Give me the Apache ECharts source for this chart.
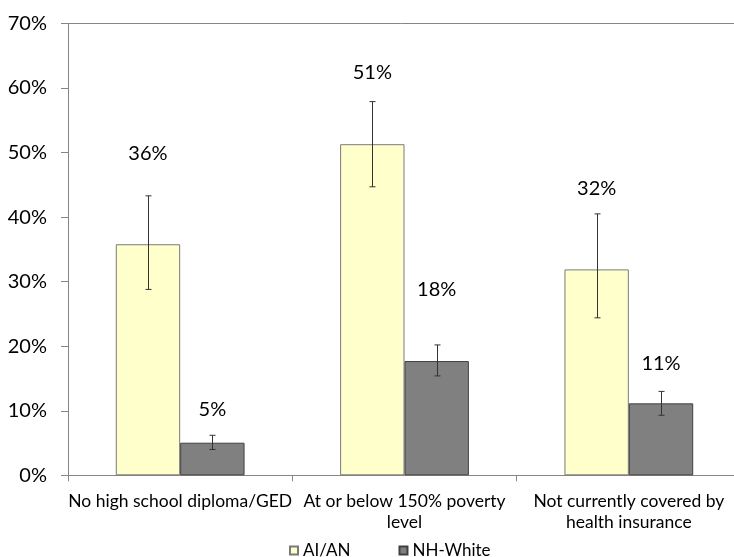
<!DOCTYPE html>
<html>
<head>
<meta charset="utf-8">
<script src="https://cdn.jsdelivr.net/npm/echarts@6/dist/echarts.min.js"></script>
<style>
html,body{margin:0;padding:0;background:#fff;}
#c{width:734px;height:557px;}
</style>
</head>
<body>
<div id="c"></div>
<script>
// ---- data ----
const categories = ['No high school diploma/GED', 'At or below 150% poverty\nlevel', 'Not currently covered by\nhealth insurance'];
const seriesNames = ['AI/AN', 'NH-White'];
const aian = [35.8, 51.3, 31.9];
const aianLow = [28.8, 44.7, 24.4];
const aianHigh = [43.3, 57.9, 40.5];
const white = [5.05, 17.7, 11.15];
const whiteLow = [4.0, 15.4, 9.3];
const whiteHigh = [6.2, 20.2, 13.0];
const yMin = 0, yMax = 70, yStep = 10;

// ---- styles ----
const FONT = "'Gill Sans', 'Gill Sans MT', Lato, sans-serif";
const BAR_RATIO = 0.287;
const aianLabelDist = [81, 62, 71];
const whiteLabelDist = [23, 62, 30];

const chart = echarts.init(document.getElementById('c'), null, {renderer: 'canvas'});

function withLabels(vals, dists) {
  return vals.map((v, i) => ({value: v, label: {distance: dists[i]}}));
}
function errSeries(low, high, sign) {
  return {
    type: 'custom',
    silent: true,
    z: 5,
    data: low.map((l, i) => [i, l, high[i]]),
    renderItem: function (params, api) {
      const i = api.value(0);
      const band = api.size([1, 0])[0];
      const off = sign * band * BAR_RATIO / 2;
      const p1 = api.coord([i, api.value(1)]);
      const p2 = api.coord([i, api.value(2)]);
      const x = Math.round(p1[0] + off) + 0.5;
      const st = {stroke: '#333', lineWidth: 1};
      return {
        type: 'group',
        children: [
          {type: 'line', shape: {x1: x, y1: p1[1], x2: x, y2: p2[1]}, style: st},
          {type: 'line', shape: {x1: x - 3, y1: p1[1], x2: x + 3, y2: p1[1]}, style: st},
          {type: 'line', shape: {x1: x - 3, y1: p2[1], x2: x + 3, y2: p2[1]}, style: st}
        ]
      };
    }
  };
}

const labelCommon = {
  show: true,
  position: 'top',
  fontFamily: FONT,
  fontSize: 20,
  color: '#000',
  formatter: p => Math.round(p.value) + '%'
};

chart.setOption({
  animation: false,
  backgroundColor: '#fff',
  textStyle: {fontFamily: FONT},
  grid: {left: 68, right: -7, top: 23.5, bottom: 81.7, containLabel: false, outerBoundsMode: 'none'},
  legend: {
    data: seriesNames,
    left: 284,
    top: 537,
    itemWidth: 8,
    itemHeight: 8,
    itemGap: 48,
    icon: 'rect',
    textStyle: {fontFamily: FONT, fontSize: 17, color: '#000'}
  },
  xAxis: {
    type: 'category',
    data: categories,
    axisLine: {lineStyle: {color: '#868686', width: 1}},
    axisTick: {show: true, length: 6, lineStyle: {color: '#868686'}},
    axisLabel: {fontFamily: FONT, fontSize: 17.5, color: '#000', margin: 16, lineHeight: 21, interval: 0},
    splitLine: {show: false}
  },
  yAxis: {
    type: 'value',
    min: yMin,
    max: yMax,
    interval: yStep,
    axisLine: {show: true, lineStyle: {color: '#868686', width: 1}},
    axisTick: {show: true, length: 7, lineStyle: {color: '#868686'}},
    axisLabel: {fontFamily: FONT, fontSize: 20, color: '#000', margin: 21, formatter: v => v + '%'},
    splitLine: {show: false}
  },
  series: [
    {
      name: seriesNames[0],
      type: 'bar',
      barWidth: (BAR_RATIO * 100) + '%',
      barGap: '0%',
      itemStyle: {color: '#FFFFCC', borderColor: '#7a7a7a', borderWidth: 1},
      label: labelCommon,
      data: withLabels(aian, aianLabelDist),
      markLine: {
        silent: true,
        symbol: 'none',
        label: {show: false},
        lineStyle: {color: '#868686', type: 'solid', width: 1},
        data: [{yAxis: yMax}]
      }
    },
    {
      name: seriesNames[1],
      type: 'bar',
      barWidth: (BAR_RATIO * 100) + '%',
      barGap: '0%',
      itemStyle: {color: '#808080', borderColor: '#404040', borderWidth: 1},
      label: labelCommon,
      data: withLabels(white, whiteLabelDist)
    },
    errSeries(aianLow, aianHigh, -1),
    errSeries(whiteLow, whiteHigh, 1)
  ]
});
</script>
</body>
</html>
